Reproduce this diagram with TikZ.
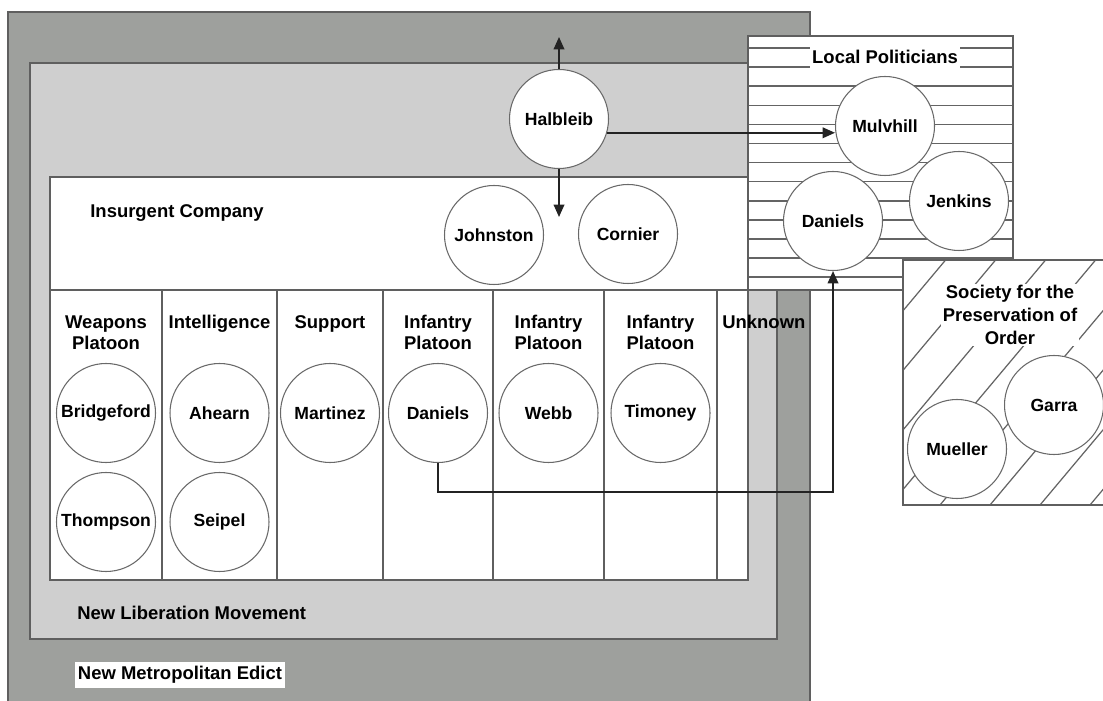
\documentclass[tikz,border=0pt]{standalone}
\usepackage{fontspec}
\setmainfont{Liberation Sans}
\usepackage{xcolor}
\usetikzlibrary{arrows.meta}

\definecolor{edict}{RGB}{158,160,157}
\definecolor{movement}{RGB}{207,207,207}
\definecolor{boxline}{RGB}{95,95,95}
\definecolor{circline}{RGB}{105,105,105}
\definecolor{hatchline}{RGB}{100,100,100}
\definecolor{arrline}{RGB}{35,35,35}

\begin{document}
\begin{tikzpicture}[
    person/.style={draw=circline, circle, fill=white, minimum size=1.98cm,
      inner sep=0pt, line width=0.6pt, font=\fontsize{10}{12}\selectfont\bfseries},
    lbl/.style={font=\fontsize{10.5}{12}\selectfont\bfseries, inner sep=0pt},
    plt/.style={lbl, align=center, anchor=north},
    frame/.style={draw=boxline, line width=0.8pt},
    hatch/.style={draw=hatchline, line width=0.9pt},
    arr/.style={-{Triangle[length=7pt, width=6pt]}, line width=1pt, draw=arrline},
  ]
    \useasboundingbox (0,0) rectangle (22.06,14);
    \clip (0,0) rectangle (22.06,14);

    % ═══ Nested groups ═══
    \draw[frame, fill=edict] (0.16,-0.2) rectangle (16.2,13.76);
    \draw[frame, fill=movement] (0.6,1.22) rectangle (15.54,12.74);
    \draw[frame, fill=white] (1.0,2.4) rectangle (14.96,10.46);
    \draw[frame] (1.0,8.2) -- (14.96,8.2);
    \foreach \x in {3.24,5.54,7.66,9.86,12.08,14.34}
      \draw[frame] (\x,2.4) -- (\x,8.2);

    \node[lbl, anchor=west, fill=white, inner xsep=1.5pt, inner ysep=2.5pt] (edictlbl)
      at (1.5,0.5) {New Metropolitan Edict};
    \node[lbl, anchor=west] (movelbl) at (1.54,1.74) {New Liberation Movement};
    \node[lbl, anchor=west] (complbl) at (1.8,9.74) {Insurgent Company};

    % Platoons
    \node[plt] (wpn) at (2.12,7.7) {Weapons\\Platoon};
    \node[plt] (intel) at (4.39,7.7) {Intelligence};
    \node[plt] (supp) at (6.6,7.7) {Support};
    \node[plt] (inf1) at (8.76,7.7) {Infantry\\Platoon};
    \node[plt] (inf2) at (10.97,7.7) {Infantry\\Platoon};
    \node[plt] (inf3) at (13.21,7.7) {Infantry\\Platoon};
    \node[plt, anchor=north west] (unk) at (14.44,7.7) {Unknown};

    \node[person] (bridge) at (2.12,5.74) {Bridgeford};
    \node[person] (thomp) at (2.12,3.56) {Thompson};
    \node[person] (ahearn) at (4.39,5.74) {Ahearn};
    \node[person] (seipel) at (4.39,3.56) {Seipel};
    \node[person] (mart) at (6.6,5.74) {Martinez};
    \node[person] (dan1) at (8.76,5.74) {Daniels};
    \node[person] (webb) at (10.97,5.74) {Webb};
    \node[person] (tim) at (13.21,5.74) {Timoney};

    % Company leaders
    \node[person] (hal) at (11.18,11.62) {Halbleib};
    \node[person] (john) at (9.88,9.3) {Johnston};
    \node[person] (corn) at (12.56,9.32) {Cornier};

    % ═══ Local Politicians ═══
    \draw[frame, fill=white] (14.96,8.2) rectangle (20.26,13.28);
    \foreach \k in {0,...,12}
      \draw[hatch] (14.96,13.04-0.382*\k) -- (20.26,13.04-0.382*\k);
    \draw[frame] (14.96,8.2) rectangle (20.26,13.28);
    \node[lbl, fill=white, inner xsep=1.5pt, inner ysep=3.5pt] (lptitle)
      at (17.7,12.86) {Local Politicians};

    \node[person] (mul) at (17.7,11.48) {Mulvhill};
    \node[person] (jen) at (19.18,9.98) {Jenkins};
    \node[person] (dan2) at (16.66,9.58) {Daniels};

    % ═══ Society for the Preservation of Order ═══
    \draw[frame, fill=white] (18.06,3.9) rectangle (22.2,8.8);
    \begin{scope}
      \clip (18.06,3.9) rectangle (22.2,8.8);
      \foreach \k in {-4,...,3}
        \draw[hatch, line width=0.7pt] (18.8+\k,3.9) -- ++(50:6.4);
    \end{scope}
    \draw[frame] (18.06,3.9) rectangle (22.2,8.8);
    \node[lbl, align=center, fill=white, inner sep=1pt,
      font=\fontsize{10.5}{13}\selectfont\bfseries] (sptitle)
      at (20.2,7.7) {Society for the\\Preservation of\\Order};

    \node[person] (garra) at (21.08,5.9) {Garra};
    \node[person] (muel) at (19.14,5.02) {Mueller};

    % Links
    \coordinate (upend) at (11.18,13.26);
    \coordinate (downend) at (11.18,9.66);
    \coordinate (turn) at (8.76,4.16);
    \draw[arr] (hal) -- (upend);
    \draw[arr] (hal) -- (downend);
    \draw[arr] (hal.-16) -- (hal.-16 -| mul.west);
    \draw[arr] (dan1.south) -- (turn) -| (dan2.south);
  \end{tikzpicture}
\end{document}
